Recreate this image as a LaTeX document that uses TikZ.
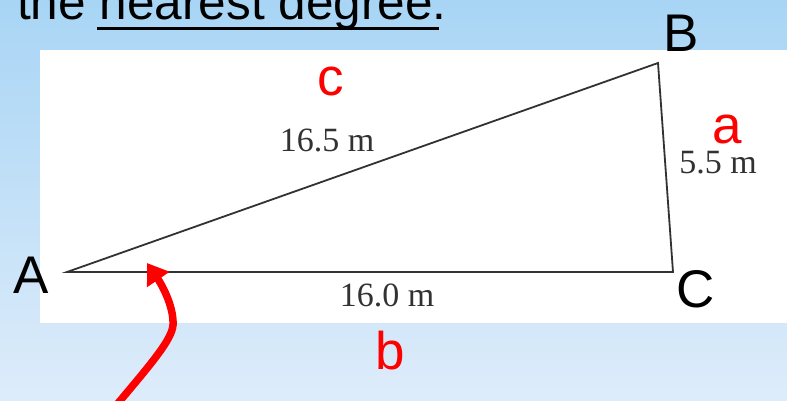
\documentclass[tikz,border=0pt]{standalone}
\usepackage{fontspec}
\setmainfont{Liberation Sans}
\newfontfamily\serifm{Liberation Serif}
\usetikzlibrary{arrows.meta}
\definecolor{bgtop}{RGB}{168,213,245}
\definecolor{bgbot}{RGB}{222,236,250}
\definecolor{lin}{RGB}{50,50,50}
\definecolor{lbl}{RGB}{255,0,0}
\tikzset{
  vlabel/.style={inner sep=0pt, anchor=base, font=\fontsize{53}{60}\selectfont},
  redlabel/.style={vlabel, text=lbl},
  measure/.style={inner sep=0pt, anchor=base, text=lin, font=\serifm\fontsize{34}{40}\selectfont},
  side/.style={draw=lin, line width=1.8pt, line join=miter},
  pointer/.style={draw=red, line width=7.5pt, -{Triangle[length=20pt,width=26pt]}}
}
\begin{document}
\begin{tikzpicture}[x=1pt,y=-1pt]
\useasboundingbox (0,0) rectangle (787,401);
\clip (0,0) rectangle (787,401);
\shade[top color=bgtop, bottom color=bgbot] (0,0) rectangle (787,401);
\fill[white] (40,50) rectangle (787,323);
% heading
\node[inner sep=0pt, anchor=base west, font=\fontsize{49.5}{56}\selectfont] (head) at (17,20) {the nearest degree.};
\coordinate (u1) at (97,28.5);
\coordinate (u2) at (439,28.5);
\draw[line width=3pt] (u1) -- (u2);
% triangle
\coordinate (A) at (67,272);
\coordinate (B) at (658,63);
\coordinate (C) at (673,272);
\draw[side] (A) -- (B) -- (C) -- cycle;
% vertex labels
\node[vlabel] (lA) at (31,293) {A};
\node[vlabel] (lB) at (681,52) {B};
\node[vlabel] (lC) at (696,307) {C};
% side labels
\node[redlabel] (la) at (727,143) {a};
\node[redlabel] (lb) at (390,369) {b};
\node[redlabel] (lc) at (331,96) {c};
% measures
\node[measure] (m1) at (327,152) {16.5 m};
\node[measure] (m2) at (718,173) {5.5 m};
\node[measure] (m3) at (387,306) {16.0 m};
% red arrow
\coordinate (s) at (114,408);
\coordinate (mid) at (173,325);
\coordinate (tip) at (147,263);
\draw[pointer] (s) .. controls (150,365) and (172,340) .. (mid) .. controls (174,305) and (160,282) .. (tip);
\end{tikzpicture}
\end{document}
